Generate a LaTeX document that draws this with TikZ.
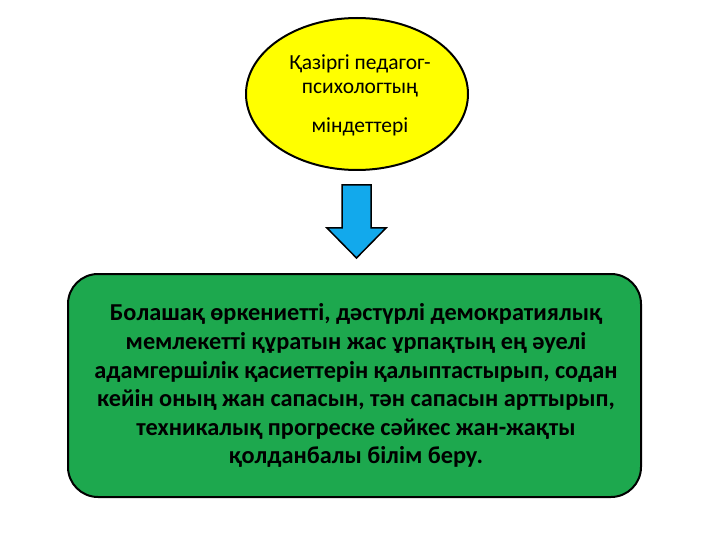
\documentclass[tikz,border=0pt]{standalone}
\usepackage{fontspec}
\setmainfont{Carlito}
\definecolor{ellyellow}{HTML}{FFFF00}
\definecolor{arrblue}{HTML}{12A9EC}
\definecolor{boxgreen}{HTML}{1DA84E}
\begin{document}
\begin{tikzpicture}[x=1pt,y=-1pt,
  outl/.style={draw=black,line width=2pt},
  bodyline/.style={font=\fontsize{24.3}{28}\selectfont\bfseries,anchor=base,inner sep=0pt},
  topline/.style={font=\fontsize{21.5}{24}\selectfont,anchor=base,inner sep=0pt}]
\useasboundingbox (0,0) rectangle (720,540);
% ellipse
\draw[outl,fill=ellyellow] (357,94) ellipse [x radius=111, y radius=76];
\node[topline] (t1) at (360,70) {Қазіргі педагог-};
\node[topline] (t2) at (360,94) {психологтың};
\node[topline] (t3) at (360,133) {міндеттері};
% arrow
\draw[outl,line width=1.5pt,fill=arrblue,line join=miter]
  (342,185) -- (371,185) -- (371,228) -- (386,228) -- (356.5,258) -- (327,228) -- (342,228) -- cycle;
% green box
\draw[outl,fill=boxgreen,rounded corners=30pt] (68,274) rectangle (641,497);
\node[bodyline] (b1) at (356,320) {Болашақ өркениетті, дәстүрлі демократиялық};
\node[bodyline] (b2) at (356,349) {мемлекетті құратын жас ұрпақтың ең әуелі};
\node[bodyline] (b3) at (356,378) {адамгершілік қасиеттерін қалыптастырып, содан};
\node[bodyline] (b4) at (356,406) {кейін оның жан сапасын, тән сапасын арттырып,};
\node[bodyline] (b5) at (356,435) {техникалық прогреске сәйкес жан-жақты};
\node[bodyline] (b6) at (356,463) {қолданбалы білім беру.};
\end{tikzpicture}
\end{document}
